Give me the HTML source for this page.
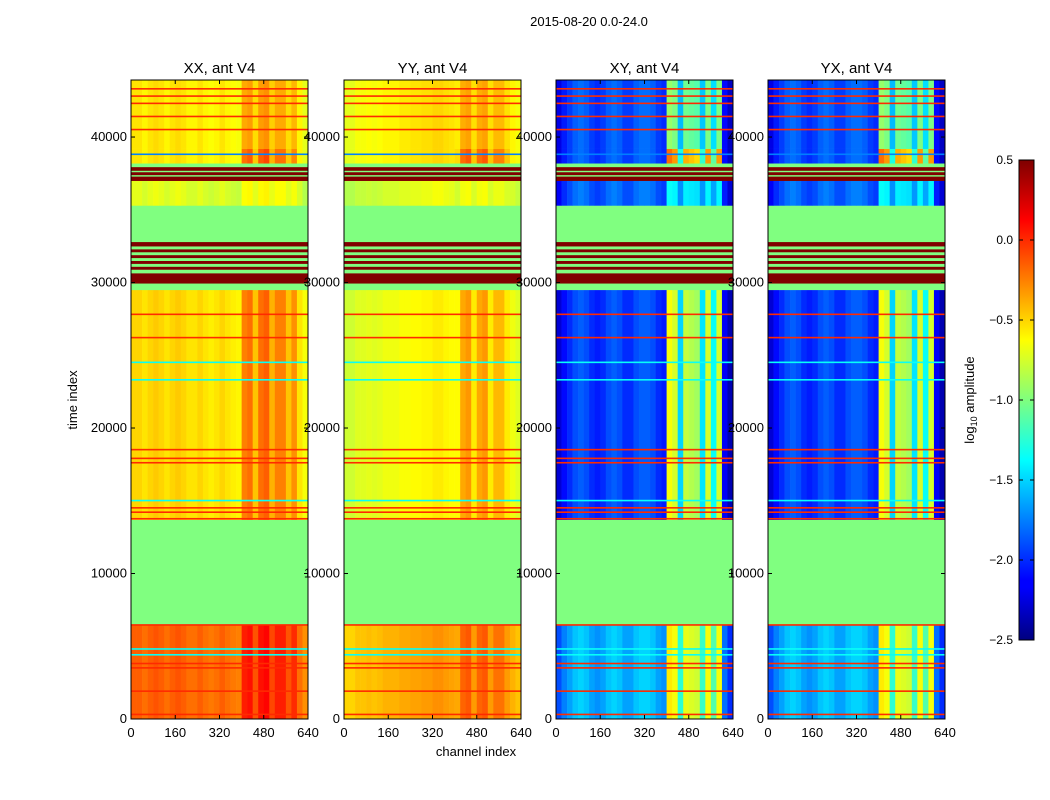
<!DOCTYPE html>
<html><head><meta charset="utf-8"><style>
body{margin:0;background:#fff;}
svg{display:block;font-family:"Liberation Sans","DejaVu Sans",sans-serif;}
</style></head><body>
<svg id="fig" width="1050" height="800" viewBox="0 0 1050 800" xmlns="http://www.w3.org/2000/svg">
<rect width="1050" height="800" fill="#fff"/>
<text x="589" y="26" font-size="13" text-anchor="middle">2015-08-20 0.0-24.0</text>
<text x="77" y="400" font-size="13" text-anchor="middle" transform="rotate(-90 77 400)">time index</text>
<text x="476" y="756" font-size="13" text-anchor="middle">channel index</text>
<g id="panels"></g>
<defs><linearGradient id="jet" x1="0" y1="1" x2="0" y2="0">
<stop offset="0" stop-color="#00007f"/><stop offset="0.11" stop-color="#0000ff"/><stop offset="0.125" stop-color="#0000ff"/>
<stop offset="0.375" stop-color="#00ffff"/><stop offset="0.5" stop-color="#7fff7f"/><stop offset="0.625" stop-color="#ffff00"/>
<stop offset="0.875" stop-color="#ff0000"/><stop offset="1" stop-color="#7f0000"/></linearGradient></defs>
<g id="cbar">
<rect x="1019" y="160" width="15" height="480" fill="url(#jet)" stroke="#000" stroke-width="1"/>
</g>
<text x="974" y="400" font-size="13" text-anchor="middle" transform="rotate(-90 974 400)">log<tspan font-size="9" dy="3">10</tspan><tspan dy="-3"> amplitude</tspan></text>
</svg>
<script>
const panelTitles=["XX, ant V4","YY, ant V4","XY, ant V4","YX, ant V4"];
const yTicks=[0,10000,20000,30000,40000];
const xTicks=[0,160,320,480,640];
const cbTicks=[0.5,0.0,-0.5,-1.0,-1.5,-2.0,-2.5];
const cbLabels=["0.5","0.0","\u22120.5","\u22121.0","\u22121.5","\u22122.0","\u22122.5"];
const segStart=[0,6500,13700,29500,29950,30650,30900,31100,31300,31500,31700,31900,32100,32300,32500,32800,35300,37000,37300,37400,37600,37700,37950,38200,39200];
const segEnd=[6500,13700,29500,29950,30650,30900,31100,31300,31500,31700,31900,32100,32300,32500,32800,35300,37000,37300,37400,37600,37700,37950,38200,39200,43920];
const segKind=["A","F","B","F","H","F","H","F","H","F","H","F","H","F","H","F","D","H","F","H","F","H","F","C1","C"];
const levelXX={A:-0.2,B:-0.55,C:-0.6,C1:-0.6,D:-0.75};
const levelYY={A:-0.45,B:-0.72,C:-0.65,C1:-0.65,D:-0.8};
const levelXY={A:-1.65,B:-2.0,C:-1.95,C1:-1.95,D:-1.9};
const levelYX={A:-1.65,B:-2.0,C:-1.95,C1:-1.95,D:-1.9};
const hiScale={A:0.8,B:1.0,C:0.75,C1:1.3,D:0.4};
const profXX=[0.05,0.05,0,0.05,0.08,0.05,0,0.05,0.08,0.05,0,0,0.05,0,-0.03,0,0.05,0,-0.03,-0.05,0.3,0.35,0.1,0.35,0.4,0.15,0.3,0.3,0.1,0.25,0,-0.1];
const profYY=[-0.05,-0.05,0,0,0.02,0,0.02,0.05,0.05,0.05,0.08,0.08,0.1,0.1,0.12,0.12,0.15,0.15,0.12,0.1,0.1,0.35,0.4,0.15,0.35,0.4,0.15,0.3,0.3,0.15,0.05,0];
const profXY=[-0.25,-0.1,0,0.1,0.15,0.1,0,-0.05,0,0.1,0.15,0.1,0,0,0.1,0.15,0.15,0.1,0,-0.05,1.35,1.25,0.5,1.2,1.15,1.1,0.55,1.25,0.65,1.25,-0.15,-0.35];
const profYX=[-0.25,-0.1,0,0.1,0.15,0.1,0,-0.05,0,0.1,0.15,0.1,0,0,0.1,0.15,0.15,0.1,0,-0.05,1.35,1.25,0.5,1.2,1.15,1.1,0.55,1.25,0.65,1.25,-0.15,-0.35];
const lineTime=[300,1900,3500,3800,4400,4800,6450,13750,14200,14500,15000,17600,17900,18500,23300,24500,26200,27800,38800,40500,41400,42300,42800,43300];
const lineVal=[0,0,0,0,-1.35,-1.35,0,0,0,0,-1.35,0,0,0,-1.35,-1.35,0,0,-1.75,0,0,0,0,0];

const levels=[levelXX,levelYY,levelXY,levelYX];
const profs=[profXX,profYY,profXY,profYX];
const panelX=[131,344,556,768], PW=177, PY0=80, PY1=719, TMAX=43920, CMAX=640;
const vmin=-2.5, vmax=0.5;
function yScale(t){return PY1-(t/TMAX)*(PY1-PY0);}
function xScale(p,c){return panelX[p]+(c/CMAX)*PW;}
function cb(v){return 640-(v-vmin)/(vmax-vmin)*480;}
function jet(v){let t=(v-vmin)/(vmax-vmin);t=Math.max(0,Math.min(1,t));
 const f=x=>Math.round(255*Math.max(0,Math.min(1,1.5-Math.abs(4*t-x))));
 return `rgb(${f(3)},${f(2)},${f(1)})`;}
const NS="http://www.w3.org/2000/svg";
function mk(tag,attrs,parent){const e=document.createElementNS(NS,tag);for(const k in attrs)e.setAttribute(k,attrs[k]);parent.appendChild(e);return e;}
const root=document.getElementById('panels');
for(let p=0;p<4;p++){
 const g=mk('g',{},root);
 
 
 const nb=profs[p].length, bw=CMAX/nb;
 for(let s=0;s<segStart.length;s++){
  const k=segKind[s], y0=yScale(segEnd[s]), y1=yScale(segStart[s]);
  if(k==="F"||k==="H"){
   const r=mk('rect',{x:xScale(p,0),y:y0,width:PW,height:y1-y0+0.3,fill:jet(k==="F"?-1.0:0.6)},g);
   
   
   continue;}
  for(let b=0;b<nb;b++){
   const hi=(b>=20&&b<30)?hiScale[k]:1;
   const v=levels[p][k]+profs[p][b]*hi;
   const r=mk('rect',{x:xScale(p,b*bw),y:y0,width:xScale(p,(b+1)*bw)-xScale(p,b*bw)+0.3,height:y1-y0+0.3,fill:jet(v)},g);
   
   
  }}
 for(let i=0;i<lineTime.length;i++){
  const y=yScale(lineTime[i]);
  const r=mk('rect',{x:xScale(p,0),y:y-1,width:PW,height:1.6,fill:jet(lineVal[i])},g);
  
  
 }
 const fr=mk('rect',{x:panelX[p],y:PY0,width:PW,height:PY1-PY0,fill:'none',stroke:'#000','stroke-width':1},g);
 
 
 const tt=mk('text',{x:panelX[p]+PW/2,y:73,'font-size':15,'text-anchor':'middle'},g);
 tt.textContent=panelTitles[p];
 
 
 for(const t of yTicks){const y=yScale(t);
  mk('line',{x1:panelX[p],x2:panelX[p]+4,y1:y,y2:y,stroke:'#000'},g);
  mk('line',{x1:panelX[p]+PW-4,x2:panelX[p]+PW,y1:y,y2:y,stroke:'#000'},g);
  const lb=mk('text',{x:panelX[p]-4,y:y+4,'font-size':13,'text-anchor':'end'},g);
  lb.textContent=t;
  
  }
 for(const c of xTicks){const x=xScale(p,c);
  mk('line',{x1:x,x2:x,y1:PY1,y2:PY1-4,stroke:'#000'},g);
  mk('line',{x1:x,x2:x,y1:PY0,y2:PY0+4,stroke:'#000'},g);
  const lb=mk('text',{x:x,y:737,'font-size':13,'text-anchor':'middle'},g);
  lb.textContent=c;
  
  }
}
const cg=document.getElementById('cbar');
for(let i=0;i<cbTicks.length;i++){const y=cb(cbTicks[i]);
 mk('line',{x1:1019,x2:1023,y1:y,y2:y,stroke:'#000'},cg);
 mk('line',{x1:1030,x2:1034,y1:y,y2:y,stroke:'#000'},cg);
 const lb=mk('text',{x:1013,y:y+4,'font-size':12,'text-anchor':'end'},cg);
 lb.textContent=cbLabels[i];
 
 }
</script>
</body></html>
